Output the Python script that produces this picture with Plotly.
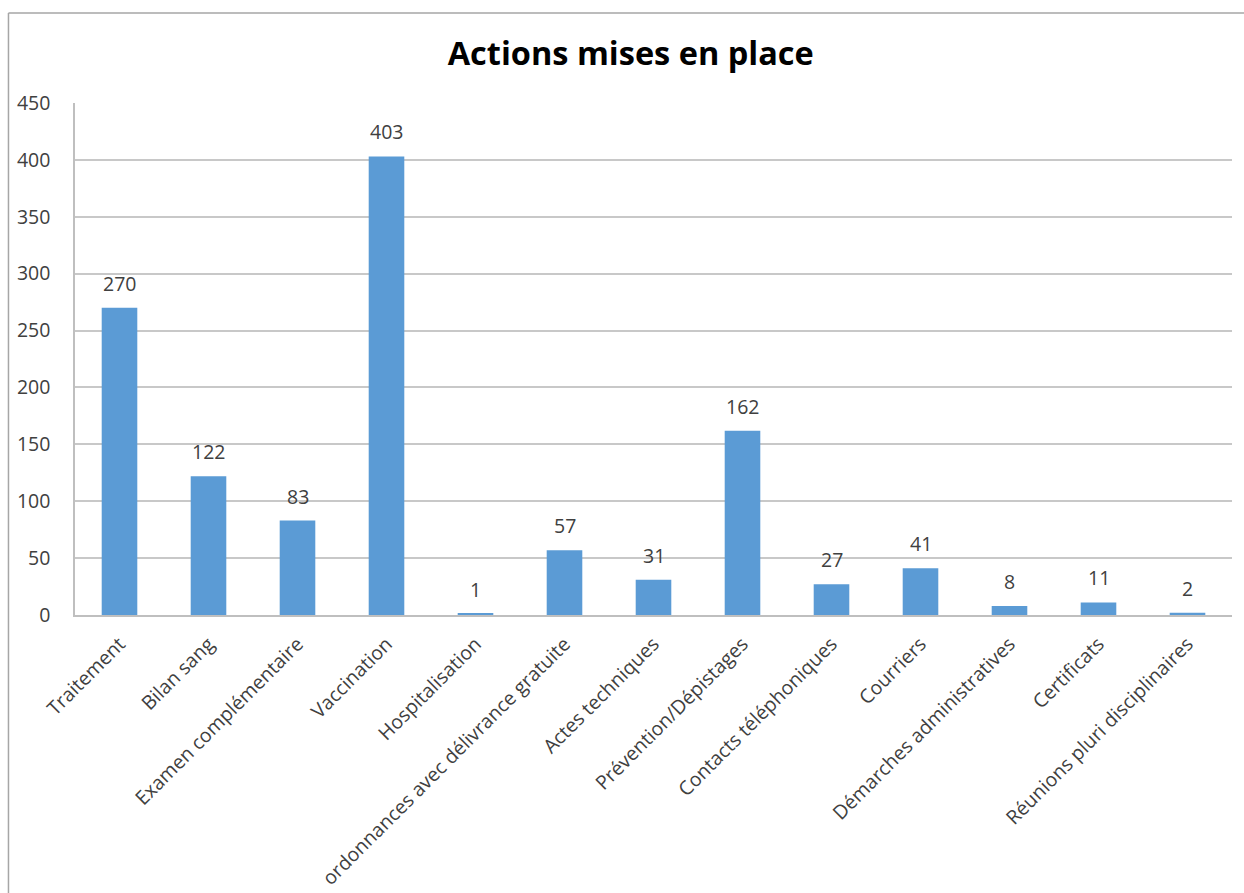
import plotly.graph_objects as go

# Categories and counts for each action
categories = [
    "Traitement",
    "Bilan sang",
    "Examen complémentaire",
    "Vaccination",
    "Hospitalisation",
    "ordonnances avec délivrance gratuite",
    "Actes techniques",
    "Prévention/Dépistages",
    "Contacts téléphoniques",
    "Courriers",
    "Démarches administratives",
    "Certificats",
    "Réunions pluri disciplinaires",
]
counts = [270, 122, 83, 403, 1, 57, 31, 162, 27, 41, 8, 11, 2]

y_ticks = [0, 50, 100, 150, 200, 250, 300, 350, 400, 450]

FONT = "Open Sans"
TEXT = "#404040"
BAR = "#5B9BD5"
GRID = "#C8C8C8"

fig = go.Figure(
    go.Bar(
        x=categories,
        y=counts,
        marker=dict(color=BAR, line=dict(width=0)),
        width=0.4,
        hoverinfo="x+y",
    )
)

# Value labels above each bar
for cat, val in zip(categories, counts):
    fig.add_annotation(
        x=cat, y=val, text=str(val),
        showarrow=False, yanchor="bottom", yshift=9,
        font=dict(family=FONT, size=19.5, color=TEXT),
    )

fig.update_layout(
    width=1244,
    height=893,
    margin=dict(l=75, r=12, t=103, b=278),
    paper_bgcolor="white",
    plot_bgcolor="white",
    showlegend=False,
    title=dict(
        text="<b>Actions mises en place</b>",
        x=0.507,
        xanchor="center",
        y=1 - 54 / 893,
        yanchor="middle",
        yref="container",
        font=dict(family=FONT, size=32.5, color="#000000"),
    ),
    font=dict(family=FONT, color=TEXT),
)

fig.update_xaxes(
    type="category",
    tickangle=-45,
    tickfont=dict(family=FONT, size=19.5, color=TEXT),
    showline=True,
    linecolor="#BFBFBF",
    linewidth=2,
    ticks="",
    showgrid=False,
    ticklabelstandoff=8,
    automargin=False,
)

fig.update_yaxes(
    range=[0, 450],
    tickvals=y_ticks,
    tickfont=dict(family=FONT, size=19.5, color=TEXT),
    showgrid=True,
    gridcolor=GRID,
    gridwidth=1.5,
    showline=True,
    linecolor="#BFBFBF",
    linewidth=1.5,
    zeroline=False,
    ticks="",
    ticklabelstandoff=19,
    automargin=False,
)

# Outer chart frame (top and left edges)
fig.add_shape(type="line", xref="paper", yref="paper",
              x0=-0.0575, x1=1.02, y0=1.1758, y1=1.1758,
              line=dict(color="#A6A6A6", width=1.5))
fig.add_shape(type="line", xref="paper", yref="paper",
              x0=-0.0575, x1=-0.0575, y0=1.1758, y1=-0.56,
              line=dict(color="#A6A6A6", width=1.5))

fig.write_html("out.html")
